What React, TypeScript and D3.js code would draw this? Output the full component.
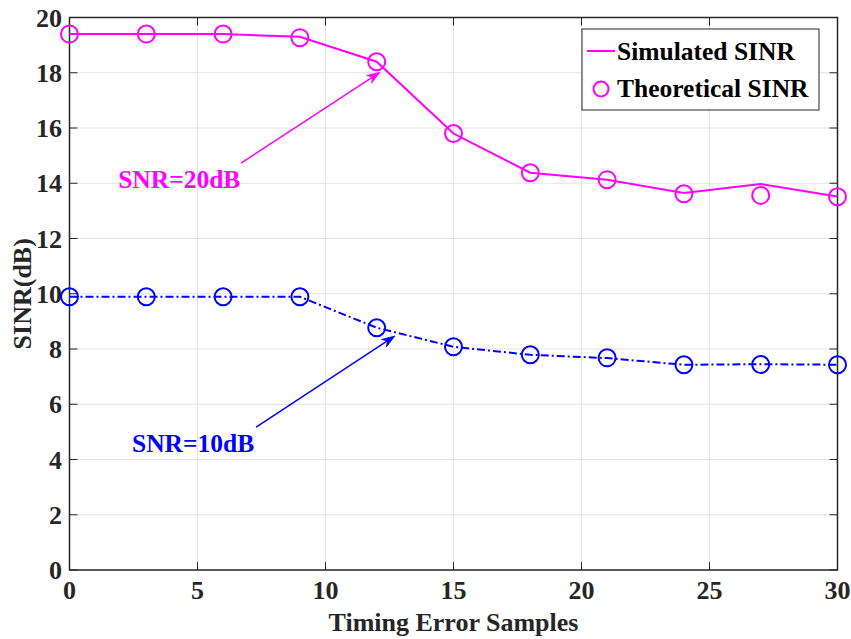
import * as d3 from 'd3';

// timing error offsets (samples)
const timing = [0, 3, 6, 9, 12, 15, 18, 21, 24, 27, 30];

// SNR = 20 dB
const sim20 = [19.4, 19.4, 19.4, 19.3, 18.4, 15.8, 14.38, 14.13, 13.65, 13.97, 13.52];
const theo20 = [19.4, 19.4, 19.4, 19.27, 18.4, 15.8, 14.38, 14.13, 13.62, 13.56, 13.51];

// SNR = 10 dB
const sim10 = [9.89, 9.89, 9.89, 9.89, 8.77, 8.08, 7.79, 7.67, 7.43, 7.45, 7.43];
const theo10 = [9.89, 9.89, 9.89, 9.89, 8.77, 8.08, 7.79, 7.68, 7.43, 7.44, 7.43];

const xTicks = [0, 5, 10, 15, 20, 25, 30];
const yTicks = [0, 2, 4, 6, 8, 10, 12, 14, 16, 18, 20];

// annotation arrows in data units: [x0, y0, x1, y1]
const arrow20 = [6.7, 14.73, 12.13, 18.02];
const arrow10 = [7.29, 5.17, 12.71, 8.47];
const label20 = { text: 'SNR=20dB', x: 1.9, y: 13.82 };
const label10 = { text: 'SNR=10dB', x: 2.44, y: 4.27 };

const MAGENTA = '#ff00ff';
const BLUE = '#0000ff';
const FONT = '"Liberation Serif", "Times New Roman", serif';

function Arrow({ pts, color, x, y }: { pts: number[]; color: string; x: any; y: any }) {
  const x0 = x(pts[0]), y0 = y(pts[1]), x1 = x(pts[2]), y1 = y(pts[3]);
  const ang = Math.atan2(y1 - y0, x1 - x0);
  const len = 13, half = 4.5, back = 9;
  const bx = x1 - len * Math.cos(ang), by = y1 - len * Math.sin(ang);
  const nx = -Math.sin(ang), ny = Math.cos(ang);
  const mx = x1 - back * Math.cos(ang), my = y1 - back * Math.sin(ang);
  const head = `M${x1},${y1}L${bx + nx * half},${by + ny * half}L${mx},${my}L${bx - nx * half},${by - ny * half}Z`;
  return (
    <g>
      <line x1={x0} y1={y0} x2={mx} y2={my} stroke={color} strokeWidth={1.5} />
      <path d={head} fill={color} stroke={color} strokeWidth={0.8} />
    </g>
  );
}

export default function App() {
  const width = 851;
  const height = 639;
  const left = 69.5, right = 837.5, top = 17.5, bottom = 570;

  const x = d3.scaleLinear().domain([0, 30]).range([left, right]);
  const y = d3.scaleLinear().domain([0, 20]).range([bottom, top]);

  const line = d3.line<number>().x((_, i) => x(timing[i])).y((d) => y(d));

  const tickLen = 8;

  return (
    <svg
      width={width}
      height={height}
      style={{ position: 'absolute', left: 0, top: 0, background: '#fff', fontFamily: FONT }}
    >
      {/* grid */}
      {xTicks.map((t) => (
        <line key={`gx${t}`} x1={x(t)} x2={x(t)} y1={top} y2={bottom} stroke="#e3e3e3" strokeWidth={1} />
      ))}
      {yTicks.map((t) => (
        <line key={`gy${t}`} x1={left} x2={right} y1={y(t)} y2={y(t)} stroke="#e3e3e3" strokeWidth={1} />
      ))}

      {/* inward ticks on all four sides */}
      {xTicks.map((t) => (
        <g key={`tx${t}`} stroke="#262626" strokeWidth={1}>
          <line x1={x(t)} x2={x(t)} y1={bottom} y2={bottom - tickLen} />
          <line x1={x(t)} x2={x(t)} y1={top} y2={top + tickLen} />
        </g>
      ))}
      {yTicks.map((t) => (
        <g key={`ty${t}`} stroke="#262626" strokeWidth={1}>
          <line x1={left} x2={left + tickLen} y1={y(t)} y2={y(t)} />
          <line x1={right} x2={right - tickLen} y1={y(t)} y2={y(t)} />
        </g>
      ))}

      {/* axes box */}
      <rect x={left} y={top} width={right - left} height={bottom - top} fill="none" stroke="#262626" strokeWidth={1.5} />

      {/* tick labels */}
      {xTicks.map((t) => (
        <text key={`lx${t}`} x={x(t)} y={599} textAnchor="middle" fontSize={26} fontWeight="bold" fill="#262626">
          {t}
        </text>
      ))}
      {yTicks.map((t) => (
        <text key={`ly${t}`} x={62} y={y(t)} dy="0.35em" textAnchor="end" fontSize={26} fontWeight="bold" fill="#262626">
          {t}
        </text>
      ))}

      {/* axis labels */}
      <text x={(left + right) / 2} y={631} textAnchor="middle" fontSize={26} fontWeight="bold" fill="#262626">
        Timing Error Samples
      </text>
      <text
        transform={`translate(31, ${(top + bottom) / 2}) rotate(-90)`}
        textAnchor="middle"
        fontSize={26}
        fontWeight="bold"
        fill="#262626"
      >
        SINR(dB)
      </text>

      {/* SNR = 20 dB */}
      <path d={line(sim20) ?? ''} fill="none" stroke={MAGENTA} strokeWidth={2} />
      {theo20.map((d, i) => (
        <circle key={`c20${i}`} cx={x(timing[i])} cy={y(d)} r={8.5} fill="none" stroke={MAGENTA} strokeWidth={2} />
      ))}

      {/* SNR = 10 dB */}
      <path d={line(sim10) ?? ''} fill="none" stroke={BLUE} strokeWidth={2} strokeDasharray="8,3,2,3" />
      {theo10.map((d, i) => (
        <circle key={`c10${i}`} cx={x(timing[i])} cy={y(d)} r={8.5} fill="none" stroke={BLUE} strokeWidth={2} />
      ))}

      {/* annotations */}
      <Arrow pts={arrow20} color={MAGENTA} x={x} y={y} />
      <Arrow pts={arrow10} color={BLUE} x={x} y={y} />
      <text x={x(label20.x)} y={y(label20.y)} fontSize={25.5} fontWeight="bold" fill={MAGENTA}>
        {label20.text}
      </text>
      <text x={x(label10.x)} y={y(label10.y)} fontSize={25.5} fontWeight="bold" fill={BLUE}>
        {label10.text}
      </text>

      {/* legend */}
      <g>
        <rect x={582} y={29} width={237} height={81} fill="#fff" stroke="#262626" strokeWidth={1} />
        <line x1={587} x2={615} y1={51} y2={51} stroke={MAGENTA} strokeWidth={2} />
        <text x={617} y={60} fontSize={25.5} fontWeight="bold" fill="#000">
          Simulated SINR
        </text>
        <circle cx={601} cy={89} r={7.5} fill="none" stroke={MAGENTA} strokeWidth={2} />
        <text x={617} y={97} fontSize={25.5} fontWeight="bold" fill="#000">
          Theoretical SINR
        </text>
      </g>
    </svg>
  );
}
